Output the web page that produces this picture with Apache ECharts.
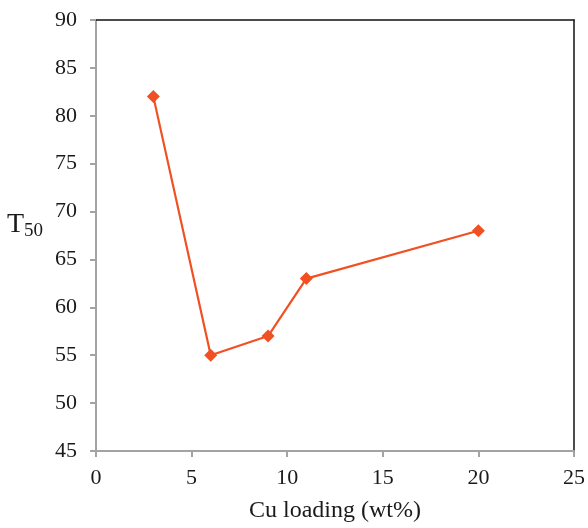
<!DOCTYPE html>
<html>
<head>
<meta charset="utf-8">
<script src="https://cdn.jsdelivr.net/npm/echarts@6/dist/echarts.min.js"></script>
<style>html,body{margin:0;padding:0;background:#fff;}#c{width:588px;height:528px;}</style>
</head>
<body>
<div id="c"></div>
<script>
const cuLoading = [3, 6, 9, 11, 20];
const t50 = [82, 55, 57, 63, 68];
const xTicks = [0, 5, 10, 15, 20, 25];
const yTicks = [45, 50, 55, 60, 65, 70, 75, 80, 85, 90];

const font = '"Liberation Serif", "Times New Roman", serif';
const gray = '#a3a3a3';
const chart = echarts.init(document.getElementById('c'), null, {renderer: 'canvas'});
chart.setOption({
  animation: false,
  backgroundColor: '#fff',
  grid: {left: 96, right: 12, top: 20, bottom: 71},
  xAxis: [{
    type: 'value', min: xTicks[0], max: xTicks[xTicks.length - 1], interval: 5,
    name: 'Cu loading (wt%)', nameLocation: 'middle', nameGap: 48,
    nameTextStyle: {fontFamily: font, fontSize: 24, color: '#1a1a1a'},
    axisLine: {onZero: false, lineStyle: {color: gray, width: 2}},
    axisTick: {show: true, length: 6, lineStyle: {color: gray, width: 2}},
    axisLabel: {fontFamily: font, fontSize: 22, color: '#1a1a1a', margin: 16},
    splitLine: {show: false}
  }, {
    type: 'value', position: 'top', min: xTicks[0], max: xTicks[xTicks.length - 1], interval: 5,
    axisLine: {show: true, onZero: false, lineStyle: {color: '#111', width: 1.5}},
    axisTick: {show: false}, axisLabel: {show: false}, splitLine: {show: false}
  }],
  yAxis: [{
    type: 'value', min: yTicks[0], max: yTicks[yTicks.length - 1], interval: 5,
    name: '{a|T}{b|50}', nameLocation: 'middle', nameGap: 53, nameRotate: 0,
    nameTextStyle: {padding: [0, 0, 22, 0], rich: {a: {fontFamily: font, fontSize: 28, color: '#1a1a1a'}, b: {fontFamily: font, fontSize: 19, color: '#1a1a1a', padding: [13, 0, 0, 0]}}},
    axisLine: {show: true, onZero: false, lineStyle: {color: gray, width: 2}},
    axisTick: {show: true, length: 6, lineStyle: {color: gray, width: 2}},
    axisLabel: {fontFamily: font, fontSize: 22, color: '#1a1a1a', margin: 19},
    splitLine: {show: false}
  }, {
    type: 'value', position: 'right', min: yTicks[0], max: yTicks[yTicks.length - 1], interval: 5,
    axisLine: {show: true, onZero: false, lineStyle: {color: '#111', width: 1.5}},
    axisTick: {show: false}, axisLabel: {show: false}, splitLine: {show: false}
  }],
  series: [{
    type: 'line',
    data: cuLoading.map((x, i) => [x, t50[i]]),
    symbol: 'diamond', symbolSize: 13,
    lineStyle: {color: '#f05022', width: 2.2},
    itemStyle: {color: '#f05022'}
  }]
});
</script>
</body>
</html>
